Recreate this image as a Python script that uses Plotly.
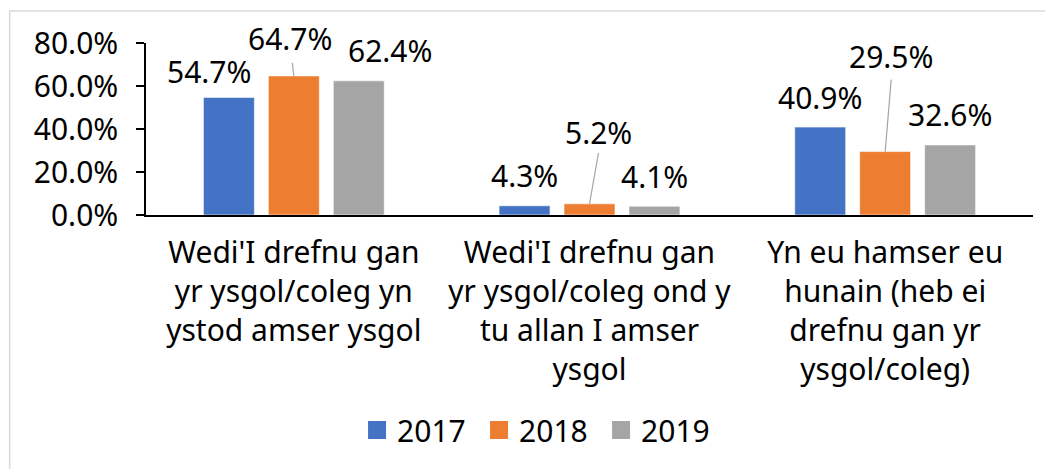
import plotly.graph_objects as go

categories = [
    "Wedi'I drefnu gan<br>yr ysgol/coleg yn<br>ystod amser ysgol",
    "Wedi'I drefnu gan<br>yr ysgol/coleg ond y<br>tu allan I amser<br>ysgol",
    "Yn eu hamser eu<br>hunain (heb ei<br>drefnu gan yr<br>ysgol/coleg)",
]
years = ["2017", "2018", "2019"]
v2017 = [54.7, 4.3, 40.9]
v2018 = [64.7, 5.2, 29.5]
v2019 = [62.4, 4.1, 32.6]
y_ticks = [0, 20, 40, 60, 80]

series = [v2017, v2018, v2019]
colors = ["#4472C4", "#ED7D31", "#A5A5A5"]

W, H = 1045, 469
L, R, T, B = 145.5, 11.5, 43, 253.5
pw, ph = W - L - R, H - T - B
FONT = "Noto Sans"
FS = 30
bargap = 0.341
bargroupgap = 0.215
slot = (1 - bargap) / 3

# label offsets in pixels (dx, dy-up), default centred 30px above bar
label_off = {
    (0, 0): (-19.5, 26), (0, 1): (-3.5, 37.5), (0, 2): (31.5, 30.4),
    (1, 1): (8.5, 71), (2, 1): (5.5, 95),
}
leaders = {(0, 1): (-1.5, 13), (1, 1): (9, 51), (2, 1): (6, 72)}

fig = go.Figure()
for j, (yr, vals) in enumerate(zip(years, series)):
    fig.add_trace(go.Bar(
        x=list(range(len(categories))), y=vals, name=yr, marker_color=colors[j],
        marker_line=dict(color="rgba(255,255,255,0.6)", width=1),
        showlegend=False, hoverinfo="skip"))
for j, yr in enumerate(years):
    fig.add_trace(go.Scatter(
        x=[None], y=[None], mode="markers", name=yr,
        marker=dict(symbol="square", size=16, color=colors[j],
                    line=dict(color=colors[j], width=2))))

annotations = []
shapes = []
for j, vals in enumerate(series):
    for i, v in enumerate(vals):
        xc = i + (j - 1) * slot
        dx, dy = label_off.get((i, j), (0, 30))
        annotations.append(dict(
            x=xc, y=v, xref="x", yref="y", text=f"{v:.1f}%", showarrow=False,
            xshift=dx, yshift=dy, xanchor="center", yanchor="middle",
            font=dict(family=FONT, size=FS, color="#000000")))
        if (i, j) in leaders:
            lx, ly = leaders[(i, j)]
            shapes.append(dict(
                type="line", xref="x", yref="y", xsizemode="pixel", ysizemode="pixel",
                xanchor=xc, yanchor=v, x0=0, y0=0, x1=lx, y1=ly,
                line=dict(color="#A6A6A6", width=1.2)))

# outer chart border (right and bottom edges fall outside the picture)
shapes.append(dict(
    type="rect", xref="paper", yref="paper",
    x0=(9 - L) / pw, x1=(1050 - L) / pw,
    y0=(ph - (475 - T)) / ph, y1=(ph - (11 - T)) / ph,
    line=dict(color="#D9D9D9", width=1.5), fillcolor="rgba(0,0,0,0)", layer="below"))

fig.update_layout(
    width=W, height=H,
    margin=dict(l=L, r=R, t=T, b=B, pad=0),
    paper_bgcolor="white", plot_bgcolor="white",
    barmode="group", bargap=bargap, bargroupgap=bargroupgap,
    font=dict(family=FONT, size=FS, color="#000000"),
    annotations=annotations, shapes=shapes,
    legend=dict(orientation="h", x=(540 - L) / pw, xanchor="center",
                y=(ph - (431 - T)) / ph, yanchor="middle",
                font=dict(family=FONT, size=FS, color="#000000"),
                entrywidth=77, entrywidthmode="pixels", itemclick=False),
)
fig.update_xaxes(
    tickmode="array", tickvals=list(range(len(categories))), ticktext=categories,
    range=[-0.5, 2.5], showline=True, linecolor="#000000", linewidth=2,
    ticks="", showgrid=False, zeroline=False, tickangle=0, ticklabelstandoff=10,
    tickfont=dict(family=FONT, size=FS, color="#000000"))
fig.update_yaxes(
    range=[0, 80], tickmode="array", tickvals=y_ticks,
    ticktext=[f"{t:.1f}%" for t in y_ticks],
    showline=True, linecolor="#000000", linewidth=1.5, ticks="outside",
    ticklen=8, tickwidth=1.5, tickcolor="#000000", showgrid=False, zeroline=False,
    ticklabelstandoff=12,
    tickfont=dict(family=FONT, size=FS, color="#000000"))

fig.write_html("out.html", config={"displayModeBar": False},
               post_script="document.body.style.margin='0';")
